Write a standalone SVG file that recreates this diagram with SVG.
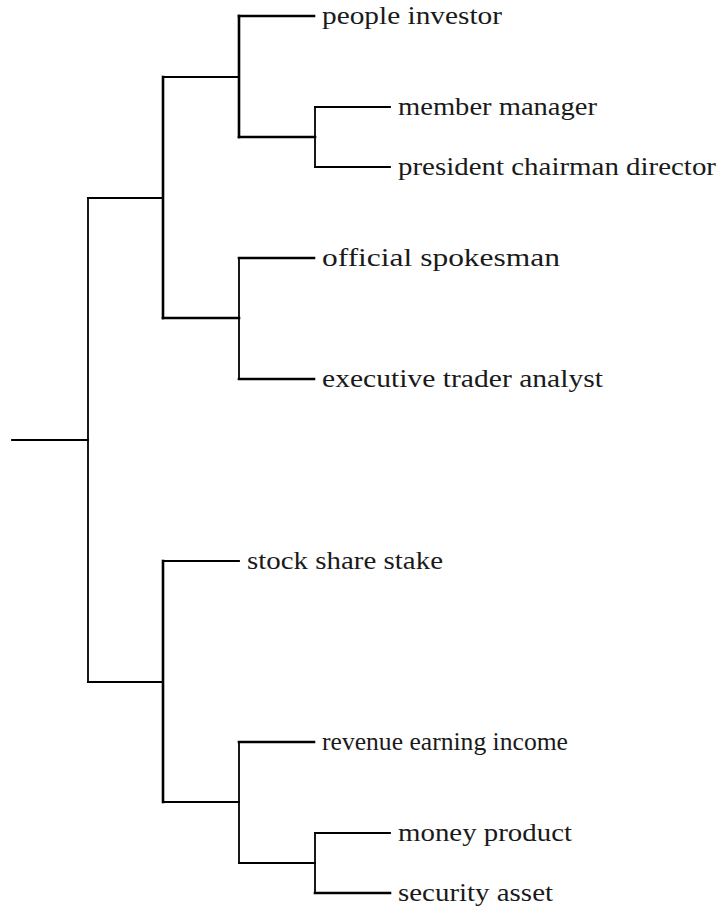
<svg xmlns="http://www.w3.org/2000/svg" width="720" height="907" viewBox="0 0 720 907">
<style>
  .e { fill: none; stroke: #000; stroke-linecap: square; stroke-linejoin: miter; }
  .t { stroke-width: 2.6; }
  .n { stroke-width: 1.8; }
  text { font-family: "Liberation Serif", "Times New Roman", serif; font-size: 26px; fill: #1a1a1a; }
</style>
<rect width="720" height="907" fill="#fff"/>
<g id="connectors">
  <path class="e n" d="M12,440 H88"/>
  <path class="e n" d="M88,198 V682"/>
  <path class="e n" d="M88,198 H163"/>
  <path class="e n" d="M88,682 H163"/>
  <path class="e t" d="M163,77 V318"/>
  <path class="e n" d="M163,77 H239"/>
  <path class="e t" d="M163,318 H239"/>
  <path class="e t" d="M239,16 V137"/>
  <path class="e t" d="M239,16 H314"/>
  <path class="e t" d="M239,137 H315"/>
  <path class="e n" d="M315,107 V167"/>
  <path class="e n" d="M315,107 H390"/>
  <path class="e n" d="M315,167 H390"/>
  <path class="e n" d="M239,258 V379"/>
  <path class="e t" d="M239,258 H314"/>
  <path class="e t" d="M239,379 H314"/>
  <path class="e t" d="M163,561 V802"/>
  <path class="e n" d="M163,561 H239"/>
  <path class="e n" d="M163,802 H239"/>
  <path class="e n" d="M239,742 V863"/>
  <path class="e t" d="M239,742 H314"/>
  <path class="e n" d="M239,863 H315"/>
  <path class="e n" d="M315,833 V893"/>
  <path class="e n" d="M315,833 H390"/>
  <path class="e t" d="M315,893 H390"/>
</g>
<g id="leaf-people-investor"><text x="322" y="24" textLength="180" lengthAdjust="spacingAndGlyphs">people investor</text></g>
<g id="leaf-member-manager"><text x="398" y="115" textLength="199" lengthAdjust="spacingAndGlyphs">member manager</text></g>
<g id="leaf-president-chairman-director"><text x="398" y="175" textLength="318" lengthAdjust="spacingAndGlyphs">president chairman director</text></g>
<g id="leaf-official-spokesman"><text x="322" y="266" textLength="238" lengthAdjust="spacingAndGlyphs">official spokesman</text></g>
<g id="leaf-executive-trader-analyst"><text x="322" y="387" textLength="281" lengthAdjust="spacingAndGlyphs">executive trader analyst</text></g>
<g id="leaf-stock-share-stake"><text x="247" y="569" textLength="196" lengthAdjust="spacingAndGlyphs">stock share stake</text></g>
<g id="leaf-revenue-earning-income"><text x="322" y="750" textLength="246" lengthAdjust="spacingAndGlyphs">revenue earning income</text></g>
<g id="leaf-money-product"><text x="398" y="841" textLength="174" lengthAdjust="spacingAndGlyphs">money product</text></g>
<g id="leaf-security-asset"><text x="398" y="901" textLength="155" lengthAdjust="spacingAndGlyphs">security asset</text></g>
</svg>
